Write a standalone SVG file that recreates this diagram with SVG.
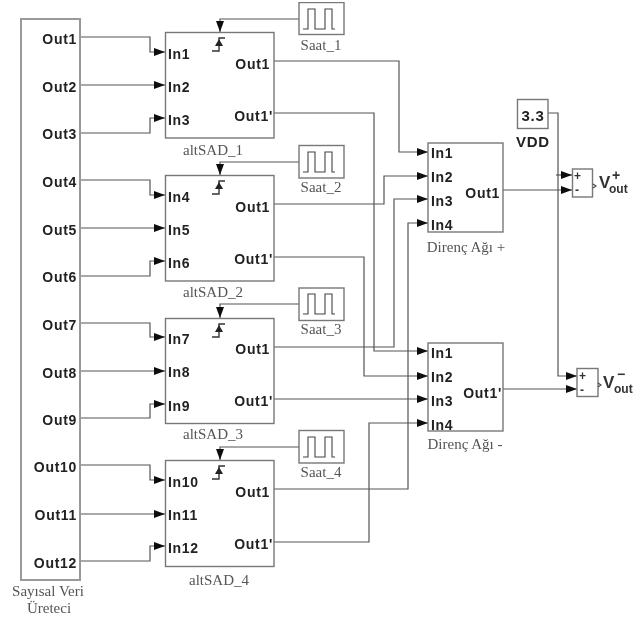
<svg xmlns="http://www.w3.org/2000/svg" width="642" height="619" viewBox="0 0 642 619">
<style>
.b{fill:#fff;stroke:#777;stroke-width:1.4}
.p{font:bold 14px "Liberation Sans",Arial,sans-serif;fill:#222;letter-spacing:.7px}
.e{text-anchor:end}
.s{font:15px "Liberation Serif","Times New Roman",serif;fill:#555;text-anchor:middle}
.c{fill:none;stroke:#555;stroke-width:1.2;marker-end:url(#a)}
.g{fill:none;stroke:#444;stroke-width:1.1}
.v{font:bold 17px "Liberation Sans",Arial,sans-serif;fill:#333}
.o{font:bold 12px "Liberation Sans",Arial,sans-serif;fill:#333}
</style>
<defs>
<filter id="soft" x="0" y="0" width="100%" height="100%"><feGaussianBlur stdDeviation="0.4"/></filter>
<marker id="a" markerUnits="userSpaceOnUse" markerWidth="13" markerHeight="10" refX="11" refY="5" orient="auto"><path d="M0,1 L11,5 L0,9z" fill="#111"/></marker>
<g id="edge"><path fill="none" stroke="#333" stroke-width="1.4" d="M-7,14 H0 V1 H6"/><path d="M-4,9 L0,2 L4,9z" fill="#222"/></g>
<path id="pulse" class="g" d="M-37,13 H-32 V-7 H-25 V13 H-15 V-7 H-8 V13 H-5"/>
</defs>
<g filter="url(#soft)">
<g id="connectors">
<path class="c" d="M80,37 H150 V52 H165"/>
<path class="c" d="M80,85 H165"/>
<path class="c" d="M80,133 H150 V118 H165"/>
<path class="c" d="M80,180 H150 V195 H165"/>
<path class="c" d="M80,228 H165"/>
<path class="c" d="M80,276 H150 V261 H165"/>
<path class="c" d="M80,323 H150 V337 H165"/>
<path class="c" d="M80,371 H165"/>
<path class="c" d="M80,418 H150 V404 H165"/>
<path class="c" d="M80,465 H150 V480 H165"/>
<path class="c" d="M80,514 H165"/>
<path class="c" d="M80,561 H150 V546 H165"/>
<path class="c" d="M299,19 H220 V32"/>
<path class="c" d="M299,162 H220 V175"/>
<path class="c" d="M299,304 H220 V318"/>
<path class="c" d="M299,447 H220 V460"/>
<path class="c" d="M274,61 H399 V152 H428"/>
<path class="c" d="M274,113 H374 V351 H428"/>
<path class="c" d="M274,204 H384 V176 H428"/>
<path class="c" d="M274,257 H364 V376 H428"/>
<path class="c" d="M274,347 H394 V199 H428"/>
<path class="c" d="M274,399 H428"/>
<path class="c" d="M274,489 H408 V223 H428"/>
<path class="c" d="M274,542 H369 V423 H428"/>
<path class="c" d="M548,113 H558 V376 H577"/>
<path class="c" d="M556,175 H572"/>
<path class="c" d="M503,190 H572"/>
<path class="c" d="M503,389 H577"/>
</g>
<g id="source"><rect class="b" style="stroke-width:2;stroke:#999" x="21" y="19" width="59" height="561"/>
<g class="p"><text class="e" x="77" y="44">Out1</text><text class="e" x="77" y="92">Out2</text><text class="e" x="77" y="139">Out3</text><text class="e" x="77" y="187">Out4</text><text class="e" x="77" y="235">Out5</text><text class="e" x="77" y="282">Out6</text><text class="e" x="77" y="330">Out7</text><text class="e" x="77" y="378">Out8</text><text class="e" x="77" y="425">Out9</text><text class="e" x="77" y="472">Out10</text><text class="e" x="77" y="520">Out11</text><text class="e" x="77" y="568">Out12</text></g>
<text class="s" x="48" y="596">Sayısal Veri</text><text class="s" x="49" y="613">Üreteci</text></g>
<g id="altSAD_1"><rect class="b" x="165.500" y="32.500" width="108.500" height="105.500"/><use href="#edge" x="219" y="37"/>
<text class="p" x="168" y="59">In1</text><text class="p" x="168" y="92">In2</text><text class="p" x="168" y="125">In3</text><text class="p e" x="270" y="69">Out1</text><text class="p e" x="273" y="121">Out1'</text><text class="s" x="213" y="155">altSAD_1</text></g>
<g id="altSAD_2"><rect class="b" x="165.500" y="175.500" width="108.500" height="105.500"/><use href="#edge" x="219" y="180"/>
<text class="p" x="168" y="202">In4</text><text class="p" x="168" y="235">In5</text><text class="p" x="168" y="268">In6</text><text class="p e" x="270" y="212">Out1</text><text class="p e" x="273" y="264">Out1'</text><text class="s" x="213" y="297">altSAD_2</text></g>
<g id="altSAD_3"><rect class="b" x="165.500" y="318.500" width="108.500" height="105"/><use href="#edge" x="219" y="323"/>
<text class="p" x="168" y="344">In7</text><text class="p" x="168" y="377">In8</text><text class="p" x="168" y="411">In9</text><text class="p e" x="270" y="354">Out1</text><text class="p e" x="273" y="406">Out1'</text><text class="s" x="213" y="439">altSAD_3</text></g>
<g id="altSAD_4"><rect class="b" x="165.500" y="460.500" width="108.500" height="106"/><use href="#edge" x="219" y="465"/>
<text class="p" x="168" y="487">In10</text><text class="p" x="168" y="520">In11</text><text class="p" x="168" y="553">In12</text><text class="p e" x="270" y="497">Out1</text><text class="p e" x="273" y="549">Out1'</text><text class="s" x="219" y="585">altSAD_4</text></g>
<g id="Saat_1"><rect class="b" x="299" y="2.500" width="45" height="32"/><use href="#pulse" x="340" y="16"/><text class="s" x="321" y="50">Saat_1</text></g>
<g id="Saat_2"><rect class="b" x="299" y="145.500" width="45" height="32.500"/><use href="#pulse" x="340" y="159"/><text class="s" x="321" y="192">Saat_2</text></g>
<g id="Saat_3"><rect class="b" x="299" y="288" width="45" height="32.500"/><use href="#pulse" x="340" y="301"/><text class="s" x="321" y="334">Saat_3</text></g>
<g id="Saat_4"><rect class="b" x="299" y="430.500" width="45" height="32.500"/><use href="#pulse" x="340" y="444"/><text class="s" x="321" y="477">Saat_4</text></g>
<g id="Direnc_plus"><rect class="b" x="428" y="143" width="75" height="89"/>
<text class="p" x="431" y="158">In1</text><text class="p" x="431" y="182">In2</text><text class="p" x="431" y="206">In3</text><text class="p" x="431" y="230">In4</text><text class="p e" x="500" y="198">Out1</text><text class="s" x="466" y="252">Direnç Ağı +</text></g>
<g id="Direnc_minus"><rect class="b" x="428" y="343" width="75" height="88"/>
<text class="p" x="431" y="358">In1</text><text class="p" x="431" y="382">In2</text><text class="p" x="431" y="406">In3</text><text class="p" x="431" y="430">In4</text><text class="p e" x="502" y="398">Out1'</text><text class="s" x="465" y="449">Direnç Ağı -</text></g>
<g id="VDD"><rect class="b" x="517.500" y="99.500" width="30.500" height="29"/><text class="p" x="533" y="121" text-anchor="middle" style="font-size:15px">3.3</text><text class="p" x="533" y="147" text-anchor="middle" style="font-size:15px">VDD</text></g>
<g id="op_plus"><rect class="b" x="572.500" y="169" width="20" height="28"/><path class="g" d="M593,184 L596,186 L593,188"/><text class="o" x="574" y="180">+</text><text class="o" x="575" y="194">-</text>
<text class="v" x="599" y="188">V</text><text class="o" x="609" y="193">out</text><text class="o" x="612" y="180" style="font-size:14px">+</text></g>
<g id="op_minus"><rect class="b" x="577" y="368.500" width="21" height="28"/><path class="g" d="M598,383 L601,385 L598,387"/><text class="o" x="579" y="380">+</text><text class="o" x="580" y="394">-</text>
<text class="v" x="603" y="388">V</text><text class="o" x="614" y="393">out</text><text class="o" x="617" y="379" style="font-size:14px">−</text></g>
</g>
</svg>
